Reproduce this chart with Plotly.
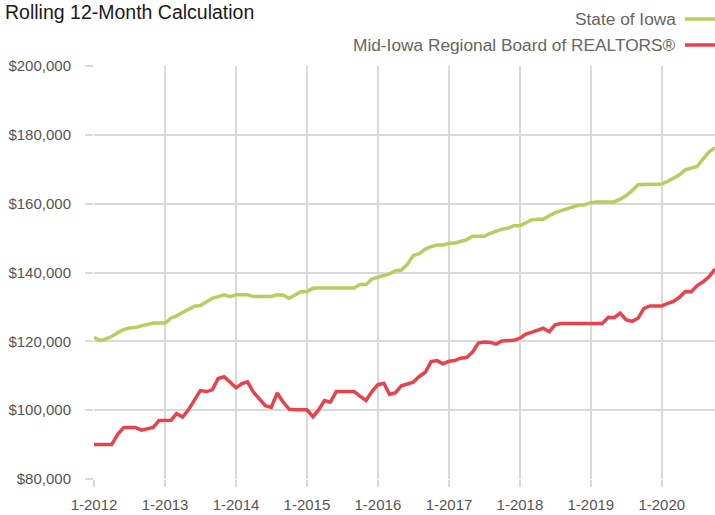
import pandas as pd
import plotly.graph_objects as go

months = pd.date_range("2012-01-01", "2020-10-01", freq="MS")

state_of_iowa = [
    121200, 120200, 120700, 121400, 122500, 123400, 123900, 124000, 124500, 125000, 125300, 125300,
    125300, 126800, 127400, 128400, 129400, 130200, 130400, 131400, 132500, 133000, 133500, 133000,
    133500, 133500, 133500, 133000, 133000, 133000, 133000, 133500, 133400, 132500, 133400, 134400,
    134500, 135400, 135500, 135500, 135500, 135500, 135500, 135500, 135500, 136500, 136500, 138100,
    138700, 139200, 139600, 140500, 140700, 142400, 144900, 145500, 146800, 147500, 148000, 148000,
    148500, 148600, 149000, 149500, 150500, 150500, 150500, 151400, 152100, 152600, 152900, 153600,
    153600, 154600, 155300, 155500, 155500, 156500, 157400, 158000, 158500, 159000, 159600, 159700,
    160300, 160500, 160500, 160500, 160500, 161300, 162300, 163800, 165500, 165600, 165600, 165600,
    165700, 166500, 167400, 168400, 169800, 170200, 170800, 173000, 175100, 176300,
]

mid_iowa = [
    90000, 90000, 90000, 90000, 92900, 94900, 95000, 95000, 94200, 94600, 95000, 97000,
    97100, 97100, 99000, 98000, 100100, 103100, 105700, 105400, 105900, 109200, 109700, 108200,
    106500, 107700, 108200, 105200, 103300, 101300, 100800, 105000, 102300, 100300, 100100, 100100,
    100100, 98100, 100000, 102800, 102300, 105400, 105400, 105400, 105400, 104100, 102800, 105400,
    107400, 107800, 104600, 105100, 107100, 107600, 108100, 109800, 111000, 114100, 114400, 113500,
    114200, 114400, 115100, 115300, 116800, 119500, 119800, 119700, 119200, 120100, 120300, 120300,
    120900, 122100, 122600, 123100, 123800, 122800, 124800, 125200, 125200, 125200, 125200, 125200,
    125200, 125200, 125200, 127000, 126900, 128200, 126300, 125800, 126700, 129600, 130300, 130300,
    130300, 131000, 131600, 132800, 134500, 134400, 136200, 137300, 138800, 141000,
]

series_names = ["State of Iowa", "Mid-Iowa Regional Board of REALTORS®"]
series_colors = ["#b5cf5e", "#e8434d"]
y_ticks = [80000, 100000, 120000, 140000, 160000, 180000, 200000]

FONT = "Liberation Sans, Arial, sans-serif"
GRID = "#d9d9d9"

fig = go.Figure()
for name, vals, col in zip(series_names, [state_of_iowa, mid_iowa], series_colors):
    fig.add_trace(go.Scatter(
        x=months, y=vals, mode="lines", name=name,
        line=dict(color=col, width=3.5), showlegend=False,
    ))

W, H = 715, 515
L, R, T, B = 94, 0, 66, 36
pw, ph = W - L - R, H - T - B

def px_x(x):
    return (x - L) / pw

def px_y(y):
    return (H - B - y) / ph

# custom legend (text on the left, swatch on the right)
for i, (name, col) in enumerate(zip(series_names, series_colors)):
    yy = 19 + i * 26
    fig.add_annotation(
        xref="paper", yref="paper", x=px_x(678), y=px_y(yy),
        xanchor="right", yanchor="middle", text=name, showarrow=False,
        font=dict(family=FONT, size=17.3, color="#666666"),
    )
    fig.add_shape(
        type="line", xref="paper", yref="paper",
        x0=px_x(685), x1=px_x(716), y0=px_y(yy), y1=px_y(yy),
        line=dict(color=col, width=3.5),
    )

fig.update_layout(
    width=W, height=H,
    margin=dict(l=L, r=R, t=T, b=B),
    paper_bgcolor="white", plot_bgcolor="white",
    title=dict(
        text="Rolling 12-Month Calculation",
        xref="container", yref="container", x=5 / W, xanchor="left",
        y=1 - 12 / H, yanchor="middle",
        font=dict(family=FONT, size=19.5, color="#1a1a1a"),
    ),
    font=dict(family=FONT),
)

fig.update_xaxes(
    type="date",
    range=["2012-01-01", "2020-10-01"],
    tick0="2012-01-01", dtick="M12", tickformat="%-m-%Y",
    showgrid=True, gridcolor=GRID, gridwidth=1.5,
    ticks="outside", ticklen=7, tickcolor=GRID, tickwidth=1.5,
    showline=False, zeroline=False,
    tickfont=dict(family=FONT, size=15, color="#555555"),
    ticklabelstandoff=5,
)
fig.update_yaxes(
    range=[80000, 200000],
    tickvals=y_ticks, tickformat="$,.0f",
    showgrid=True, gridcolor=GRID, gridwidth=1.5,
    ticks="outside", ticklen=8, tickcolor=GRID, tickwidth=1.5,
    showline=False, zeroline=False,
    tickfont=dict(family=FONT, size=15, color="#555555"),
    ticklabelstandoff=11,
)

fig.write_html(
    "out.html",
    config={"displayModeBar": False},
    post_script="document.body.style.margin='0';",
)
